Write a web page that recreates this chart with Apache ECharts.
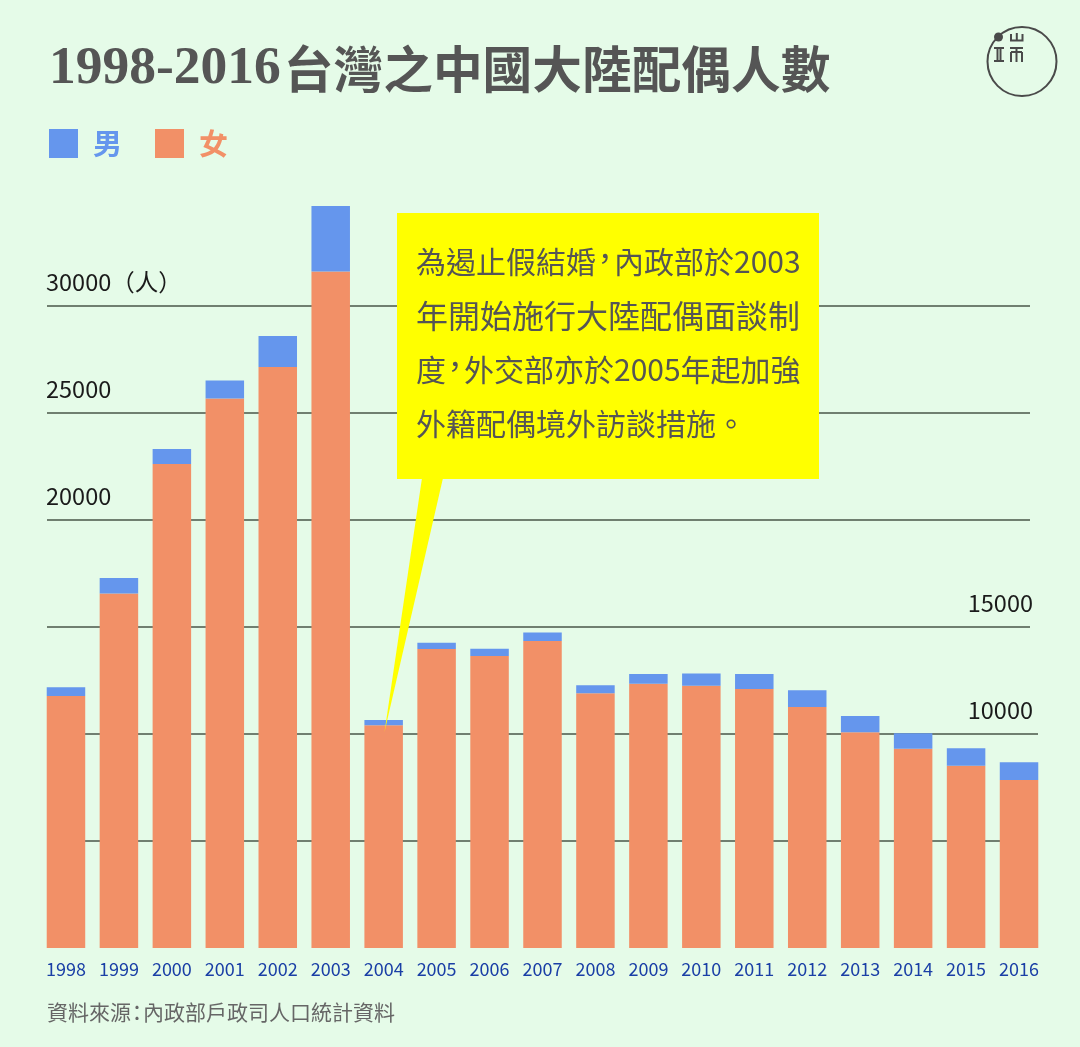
<!DOCTYPE html>
<html>
<head>
<meta charset="utf-8">
<style>
    html, body { margin: 0; padding: 0; background: #e5fbe8; }
    #chart { width: 1080px; height: 1047px; }
</style>
</head>
<body>
<div id="chart"></div>
<script src="https://cdn.jsdelivr.net/npm/echarts@6/dist/echarts.min.js"></script>
<script>
    var years = ['1998', '1999', '2000', '2001', '2002', '2003', '2004', '2005', '2006', '2007',
        '2008', '2009', '2010', '2011', '2012', '2013', '2014', '2015', '2016'];
    var female = [11780, 16570, 22620, 25680, 27150, 31610, 10410, 13970, 13650, 14350,
        11900, 12350, 12260, 12100, 11260, 10080, 9310, 8520, 7850];
    var male = [400, 720, 700, 840, 1450, 3060, 250, 290, 330, 390,
        380, 450, 570, 700, 790, 760, 720, 810, 830];
    var leftTicks = [20000, 25000, 30000];
    var rightTicks = [10000, 15000];
    // the comma token is narrow in the reference, see rich.c below
    var noteLines = ['為遏止假結婚{c|，}內政部於2003', '年開始施行大陸配偶面談制', '度{c|，}外交部亦於2005年起加強', '外籍配偶境外訪談措施。'];
    var noteSizes = [30, 32, 30, 30];

    var SANS = '"Noto Sans CJK TC", "Noto Sans", sans-serif';
    var BG = '#e5fbe8', BLUE = '#6596ed', ORANGE = '#f29067', GRAY = '#555555', LOGO = '#4a4a4a';

    // 端 logo, drawn with plain strokes
    var logoStrokes = [
        [[1011, 34], [1011, 40.5], [1022.5, 40.5], [1022.5, 34]],
        [[1016.8, 33], [1016.8, 40]],
        [[1010, 48], [1023, 48]],
        [[1011, 52], [1011, 62]],
        [[1016.5, 48], [1016.5, 62]],
        [[1022, 52], [1022, 62]],
        [[1011, 52], [1022, 52]],
        [[994, 48], [1004, 48]],
        [[997.5, 48], [997.5, 61]],
        [[1000.5, 48], [1000.5, 61]],
        [[994, 61], [1004, 61]]
    ];

    var graphics = [
        // callout tail + box
        { type: 'polygon', z: 100, shape: { points: [[422, 478], [443, 478], [384.5, 732]] }, style: { fill: '#ffff00' } },
        { type: 'rect', z: 100, shape: { x: 397, y: 213, width: 422, height: 266 }, style: { fill: '#ffff00' } },
        // logo
        { type: 'circle', z: 100, shape: { cx: 1022, cy: 61.5, r: 34.5 }, style: { fill: 'none', stroke: LOGO, lineWidth: 2 } },
        { type: 'circle', z: 100, shape: { cx: 998.5, cy: 37, r: 4.5 }, style: { fill: LOGO } },
        // tail of the 10000 line, it runs a bit past the others
        { type: 'line', z: 1, shape: { x1: 1030, y1: 734, x2: 1038, y2: 734 }, style: { stroke: '#707f70', lineWidth: 2 } },
        // source
        {
            type: 'text', z: 100, x: 47, y: 1012,
            style: {
                text: '資料來源{c|：}內政部戶政司人口統計資料', fontFamily: SANS, fontSize: 21, fill: '#666666', verticalAlign: 'middle',
                rich: { c: { fontFamily: SANS, fontSize: 21, fill: '#666666', width: 12, align: 'center' } }
            }
        }
    ];
    logoStrokes.forEach(function (pts) {
        graphics.push({ type: 'polyline', z: 100, shape: { points: pts }, style: { fill: 'none', stroke: LOGO, lineWidth: 2 } });
    });
    noteLines.forEach(function (line, i) {
        graphics.push({
            type: 'text', z: 101, x: 416, y: 262 + i * 54,
            style: {
                text: line, fontFamily: SANS, fontSize: noteSizes[i], fill: GRAY, verticalAlign: 'middle',
                rich: { c: { fontFamily: SANS, fontSize: 30, fill: GRAY, width: 18, align: 'center', padding: [0, 0, 8, 0] } }
            }
        });
    });

    var myChart = echarts.init(document.getElementById('chart'));
    myChart.setOption({
        backgroundColor: BG,
        animation: false,
        title: {
            left: 49, top: 42, padding: 0,
            text: '{a|1998-2016}{b|台灣之中國大陸配偶人數}',
            textStyle: {
                rich: {
                    a: { fontFamily: '"Liberation Serif", serif', fontWeight: 'bold', fontSize: 53.5, color: GRAY, padding: [0, 3, 0, 0] },
                    b: { fontFamily: SANS, fontWeight: 'bold', fontSize: 49.7, color: GRAY }
                }
            }
        },
        legend: {
            left: 49, top: 129, padding: 0,
            itemWidth: 29, itemHeight: 29, itemGap: 33,
            selectedMode: false,
            data: [
                { name: '男', icon: 'rect', textStyle: { color: BLUE } },
                { name: '女', icon: 'rect', textStyle: { color: ORANGE } }
            ],
            textStyle: { fontFamily: SANS, fontWeight: 'bold', fontSize: 29, padding: [0, 0, 0, 10] }
        },
        grid: [
            { left: 47, width: 983, top: 199, height: 749 },   // only the grid lines and their labels
            { left: 39.5, width: 1006, top: 199, height: 749 } // the bars
        ],
        xAxis: [
            { gridIndex: 0, type: 'value', min: 0, max: 1, show: false },
            {
                gridIndex: 1, type: 'category', data: years,
                axisLine: { show: false }, axisTick: { show: false },
                axisLabel: { color: '#1a3fa6', fontFamily: SANS, fontSize: 18, margin: 12, interval: 0 }
            }
        ],
        yAxis: [
            {
                gridIndex: 0, type: 'value', min: 0, max: 35000, interval: 5000, position: 'left',
                axisLine: { show: false }, axisTick: { show: false },
                splitLine: { showMinLine: false, showMaxLine: false, lineStyle: { color: '#707f70', width: 2 } },
                axisLabel: {
                    inside: true, margin: -1, align: 'left', verticalAlign: 'bottom',
                    color: '#1a1a1a', fontFamily: SANS, fontSize: 23.5, padding: [0, 0, 12, 0],
                    formatter: function (v) {
                        if (leftTicks.indexOf(v) < 0) return '';
                        return v === 30000 ? v + '（人）' : '' + v;
                    }
                }
            },
            {
                gridIndex: 0, type: 'value', min: 0, max: 35000, interval: 5000, position: 'right',
                axisLine: { show: false }, axisTick: { show: false }, splitLine: { show: false },
                axisLabel: {
                    inside: true, margin: -3, align: 'right', verticalAlign: 'bottom',
                    color: '#1a1a1a', fontFamily: SANS, fontSize: 23.5, padding: [0, 0, 12, 0],
                    formatter: function (v) { return rightTicks.indexOf(v) < 0 ? '' : '' + v; }
                }
            },
            { gridIndex: 1, type: 'value', min: 0, max: 35000, show: false, splitLine: { show: false } }
        ],
        series: [
            {
                name: '女', type: 'bar', stack: 'total', xAxisIndex: 1, yAxisIndex: 2,
                barWidth: 38.5, itemStyle: { color: ORANGE }, data: female
            },
            {
                name: '男', type: 'bar', stack: 'total', xAxisIndex: 1, yAxisIndex: 2,
                barWidth: 38.5, itemStyle: { color: BLUE }, data: male
            }
        ],
        graphic: graphics
    });
</script>
</body>
</html>
